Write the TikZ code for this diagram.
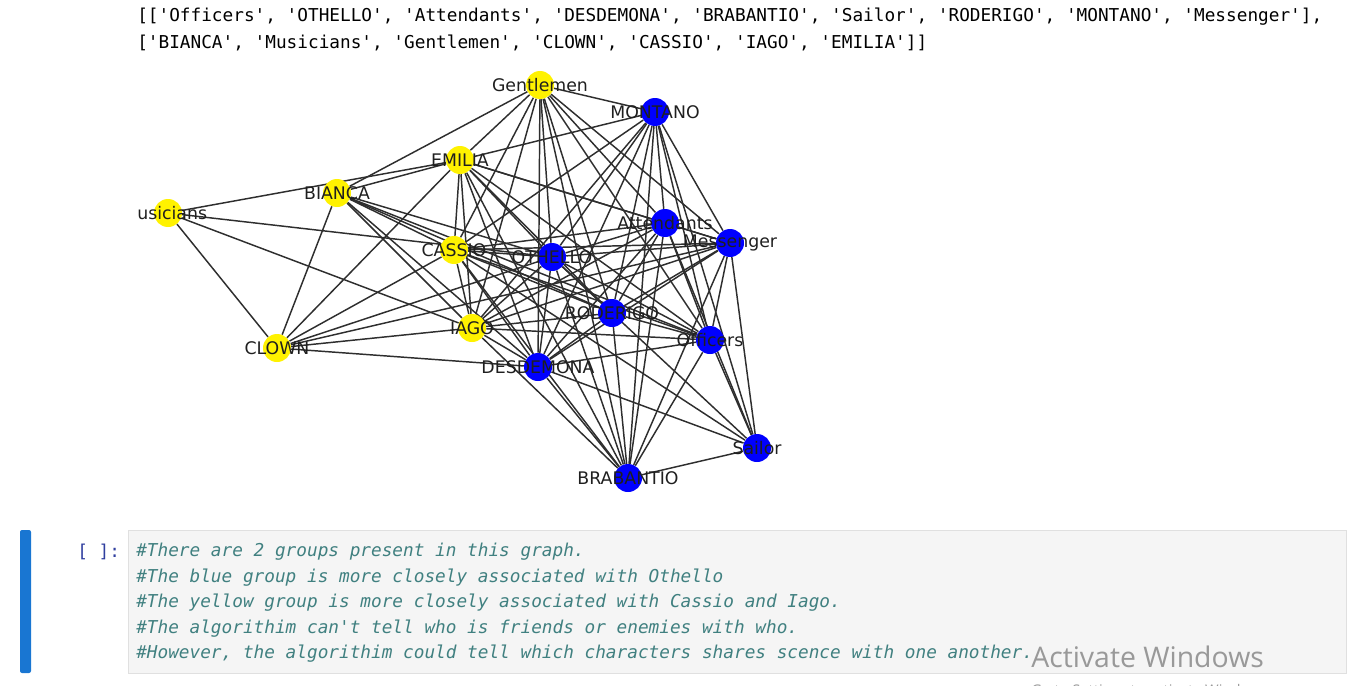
\documentclass[tikz,border=0pt]{standalone}
\usepackage{fontspec}
\setmainfont{DejaVu Sans}
\setmonofont{DejaVu Sans Mono}
\newfontfamily\winfont{Open Sans}
\usetikzlibrary{backgrounds}
\definecolor{cellbar}{HTML}{1976D2}
\definecolor{cellbg}{HTML}{F5F5F5}
\definecolor{cellrule}{HTML}{E0E0E0}
\definecolor{prompt}{HTML}{303F9F}
\definecolor{comment}{HTML}{408080}
\definecolor{edgeclr}{HTML}{2E2E2E}

\begin{document}
\begin{tikzpicture}[
  x=0.75pt, y=-0.75pt,
  vertex/.style={circle, inner sep=0pt, minimum size=21pt},
  lbl/.style={font=\fontsize{13}{13}\selectfont, text=black!88, inner sep=0pt},
  printed/.style={font=\fontsize{13.3}{16}\selectfont\ttfamily, anchor=west, inner sep=0pt},
  cmt/.style={font=\fontsize{13.3}{16}\selectfont\ttfamily\itshape, text=comment, anchor=west, inner sep=0pt},
  tie/.style={draw=edgeclr, line width=1.1pt},
]
\useasboundingbox (0,0) rectangle (1359,685);

% printed groups
\node[printed] (out1) at (137,17) {[['Officers', 'OTHELLO', 'Attendants', 'DESDEMONA', 'BRABANTIO', 'Sailor', 'RODERIGO', 'MONTANO', 'Messenger'],};
\node[printed] (out2) at (137,43) {['BIANCA', 'Musicians', 'Gentlemen', 'CLOWN', 'CASSIO', 'IAGO', 'EMILIA']]};

% graph
\foreach \n/\x/\y/\c in {Gen/540/85/yellow, Mon/655/112/blue, Emi/460/160/yellow,
  Bia/337/193/yellow, Mus/168/213/yellow, Att/665/223/blue, Mes/730/243/blue,
  Cas/454/250/yellow, Oth/552/257/blue, Rod/612/313/blue, Iag/472/328/yellow,
  Off/710/340/blue, Clo/277/348/yellow, Des/538/367/blue, Sai/757/448/blue,
  Bra/628/478/blue}
  \node[vertex, fill=\c] (\n) at (\x,\y) {};

\begin{scope}[on background layer]
\foreach \a/\b in {Gen/Mon, Gen/Emi, Gen/Bia, Gen/Cas, Gen/Iag, Gen/Oth, Gen/Des,
  Gen/Rod, Gen/Att, Gen/Mes, Gen/Off, Gen/Bra,
  Mon/Emi, Mon/Cas, Mon/Iag, Mon/Oth, Mon/Des, Mon/Rod, Mon/Att, Mon/Mes,
  Mon/Off, Mon/Bra, Mon/Sai,
  Emi/Bia, Emi/Mus, Emi/Clo, Emi/Cas, Emi/Iag, Emi/Oth, Emi/Des, Emi/Rod,
  Emi/Att, Emi/Mes, Emi/Off, Emi/Bra,
  Bia/Clo, Bia/Cas, Bia/Oth, Bia/Rod, Bia/Off, Bia/Iag, Bia/Des,
  Mus/Clo, Mus/Oth, Mus/Iag,
  Clo/Cas, Clo/Oth, Clo/Mes, Clo/Iag, Clo/Des,
  Cas/Oth, Cas/Att, Cas/Mes, Cas/Rod, Cas/Off, Cas/Iag, Cas/Des, Cas/Bra, Cas/Sai,
  Oth/Att, Oth/Mes, Oth/Rod, Oth/Off, Oth/Iag, Oth/Des, Oth/Bra, Oth/Sai,
  Att/Mes, Att/Rod, Att/Off, Att/Iag, Att/Des, Att/Bra, Att/Sai,
  Mes/Rod, Mes/Off, Mes/Iag, Mes/Des, Mes/Bra, Mes/Sai,
  Rod/Off, Rod/Iag, Rod/Des, Rod/Bra,
  Off/Iag, Off/Des, Off/Bra, Off/Sai,
  Iag/Des, Iag/Bra, Des/Bra, Des/Sai, Bra/Sai}
  \draw[tie] (\a) -- (\b);
\end{scope}

\foreach \n/\t in {Gen/Gentlemen, Mon/MONTANO, Emi/EMILIA, Bia/BIANCA,
  Att/Attendants, Mes/Messenger, Cas/CASSIO, Oth/OTHELLO, Rod/RODERIGO,
  Iag/IAGO, Off/Officers, Clo/CLOWN, Des/DESDEMONA, Sai/Sailor, Bra/BRABANTIO}
  \node[lbl] (\n-l) at (\n) {\t};
\node[lbl, anchor=west] (Mus-l) at (137,213) {usicians};

% notebook cell
\fill[cellbar, rounded corners=1.5pt] (20,530) rectangle (31,673);
\draw[cellrule, fill=cellbg] (128.5,530.5) rectangle (1346,673);
\node[printed, text=prompt] (prompt) at (77,552) {[ ]:};
\node[cmt] (c1) at (136,552) {\#There are 2 groups present in this graph.};
\node[cmt] (c2) at (136,577.5) {\#The blue group is more closely associated with Othello};
\node[cmt] (c3) at (136,603) {\#The yellow group is more closely associated with Cassio and Iago.};
\node[cmt] (c4) at (136,628.5) {\#The algorithim can't tell who is friends or enemies with who.};
\node[cmt] (c5) at (136,654) {\#However, the algorithim could tell which characters shares scence with one another.};
\node[anchor=west, inner sep=0pt, text=black!40, font=\fontsize{21.3}{23}\selectfont\winfont] (win) at (1031,657) {Activate Windows};
\node[anchor=west, inner sep=0pt, text=black!40, font=\fontsize{11}{12}\selectfont\winfont] (win2) at (1031,692) {Go to Settings to activate Windows.};
\end{tikzpicture}
\end{document}
